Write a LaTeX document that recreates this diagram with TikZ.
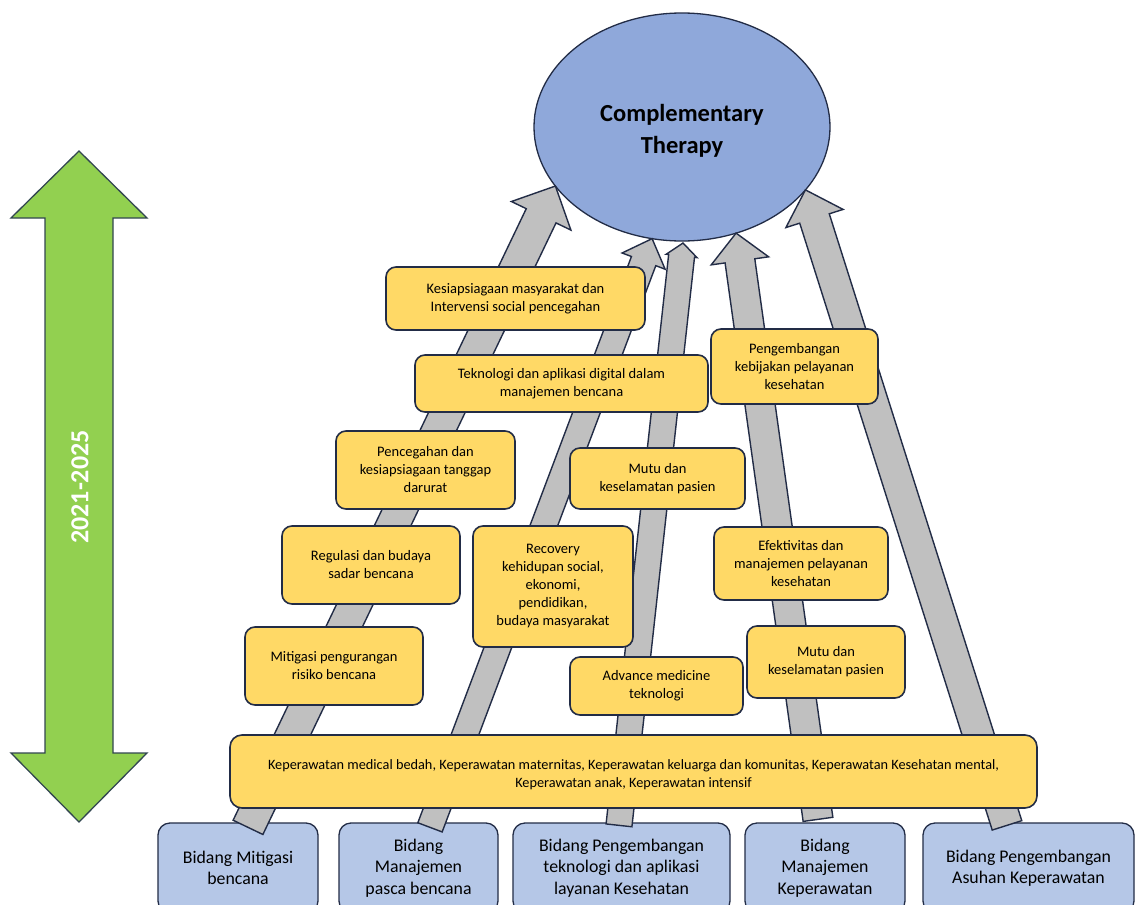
\documentclass[tikz,border=0pt]{standalone}
\usepackage{fontspec}
\setmainfont{Carlito}
\usetikzlibrary{calc,shapes.geometric}

\definecolor{ovalfill}{RGB}{143,168,218}
\definecolor{unitfill}{RGB}{181,199,231}
\definecolor{topicfill}{RGB}{255,217,102}
\definecolor{shaftfill}{RGB}{192,192,192}
\definecolor{timefill}{RGB}{146,208,80}
\definecolor{inkline}{RGB}{34,44,70}
\definecolor{timeline}{RGB}{50,70,80}

% broad block arrow from #1 to #2: half shaft width #3, half head width #4, head length #5 (pt)
\newcommand\flowarrow[5]{%
  \coordinate (fa-base) at ($(#2)!#5pt!(#1)$);
  \draw[flowbody]
    ($(#1)!#3pt!-90:(#2)$) -- ($(fa-base)!#3pt!-90:(#2)$) -- ($(fa-base)!#4pt!-90:(#2)$)
    -- (#2)
    -- ($(fa-base)!#4pt!90:(#2)$) -- ($(fa-base)!#3pt!90:(#2)$) -- ($(#1)!#3pt!90:(#2)$) -- cycle;
}
% centred lines, drawn #1 lower than their box
\newcommand\lowered[2]{\raisebox{-#1}[\height][\depth]{\begin{tabular}{@{}c@{}}#2\end{tabular}}}

\tikzset{
  goal/.style={ellipse, draw=inkline, line width=1.3pt, fill=ovalfill, inner sep=0pt, outer sep=0pt,
    minimum width=296pt, minimum height=228pt, align=center,
    font=\fontsize{24.5}{32}\selectfont\bfseries},
  unit/.style={draw=inkline, line width=1.3pt, fill=unitfill, rounded corners=12pt, inner sep=0pt,
    align=center, minimum height=90pt, font=\fontsize{17.8}{21.5}\selectfont},
  topic/.style={draw=inkline, line width=1.6pt, fill=topicfill, rounded corners=10pt, inner sep=0pt,
    align=center, font=\fontsize{14.5}{18}\selectfont},
  flowbody/.style={draw=inkline, line width=1.4pt, fill=shaftfill, line join=miter},
}

\begin{document}
\begin{tikzpicture}[x=1pt,y=-1pt]
\clip (0,0) rectangle (1136,905);
\fill[white] (0,0) rectangle (1136,905);

% time span double arrow
\draw[draw=timeline, line width=1.3pt, fill=timefill]
  (79,151) -- (147,218) -- (113,218) -- (113,753) -- (147,753) -- (79,822)
  -- (11,753) -- (45,753) -- (45,218) -- (11,218) -- cycle;
\node[rotate=90, text=white, font=\fontsize{26}{30}\selectfont\bfseries] (years) at (80,487) {2021-2025};

% goal
\node[goal] (ct) at (682,127) {\lowered{4pt}{Complementary\\Therapy}};

% units at the base
\node[unit, minimum width=160pt] (b1) at (238,868) {Bidang Mitigasi\\bencana};
\node[unit, minimum width=159pt] (b2) at (418.5,868) {Bidang\\Manajemen\\pasca bencana};
\node[unit, minimum width=217pt] (b3) at (621.5,868) {Bidang Pengembangan\\teknologi dan aplikasi\\layanan Kesehatan};
\node[unit, minimum width=160pt] (b4) at (825,868) {Bidang\\Manajemen\\Keperawatan};
\node[unit, minimum width=211pt] (b5) at (1028.5,868) {Bidang Pengembangan\\Asuhan Keperawatan};

% arrow ends
\coordinate (s1) at ($(b1.north)+(10,5)$);
\coordinate (s2) at ($(b2.north)+(11.5,5)$);
\coordinate (s3) at ($(b3.north)+(-2.5,3)$);
\coordinate (s4) at ($(b4.north)+(-7,-3)$);
\coordinate (s5) at ($(b5.north)+(-21.5,3)$);
\coordinate (t1) at (ct.205.7);
\coordinate (t2) at (ct.255);
\coordinate (t3) at ($(ct.270)+(1,2)$);
\coordinate (t4) at (ct.297);
\coordinate (t5) at (ct.333.4);

\flowarrow{s1}{t1}{16.5}{33}{33}
\flowarrow{s2}{t2}{13}{23}{24}
\flowarrow{s3}{t3}{13}{15.5}{13}
\flowarrow{s4}{t4}{15}{29}{28}
\flowarrow{s5}{t5}{15.5}{30}{30}

% topics
\node[topic, minimum width=259pt, minimum height=63pt] (k1) at (515.5,298.5) {Kesiapsiagaan masyarakat dan\\Intervensi social pencegahan};
\node[topic, minimum width=293pt, minimum height=57pt] (k2) at (561.5,383.5) {Teknologi dan aplikasi digital dalam\\manajemen bencana};
\node[topic, minimum width=167pt, minimum height=75pt] (k3) at (794.5,366.5) {Pengembangan\\kebijakan pelayanan\\kesehatan};
\node[topic, minimum width=179pt, minimum height=78pt] (k4) at (425.5,470) {Pencegahan dan\\kesiapsiagaan tanggap\\darurat};
\node[topic, minimum width=178pt, minimum height=78pt] (k5) at (371,565) {Regulasi dan budaya\\sadar bencana};
\node[topic, minimum width=178pt, minimum height=78pt] (k6) at (334,666) {Mitigasi pengurangan\\risiko bencana};
\node[topic, minimum width=160pt, minimum height=121pt] (k7) at (553,586.5) {Recovery\\kehidupan social,\\ekonomi,\\pendidikan,\\budaya masyarakat};
\node[topic, minimum width=175pt, minimum height=61pt] (k8) at (657.5,478.5) {Mutu dan\\keselamatan pasien};
\node[topic, minimum width=174pt, minimum height=73pt] (k9) at (801,563.5) {Efektivitas dan\\manajemen pelayanan\\kesehatan};
\node[topic, minimum width=158pt, minimum height=72pt] (k10) at (826,662) {Mutu dan\\keselamatan pasien};
\node[topic, minimum width=173pt, minimum height=58pt] (k11) at (656.5,686) {Advance medicine\\teknologi};
\node[topic, rounded corners=12pt, minimum width=807pt, minimum height=73pt, font=\fontsize{14.3}{18}\selectfont] (kb) at (633.5,771.5)
  {\lowered{3pt}{Keperawatan medical bedah, Keperawatan maternitas, Keperawatan keluarga dan komunitas, Keperawatan Kesehatan mental,\\Keperawatan anak, Keperawatan intensif}};
\end{tikzpicture}
\end{document}
